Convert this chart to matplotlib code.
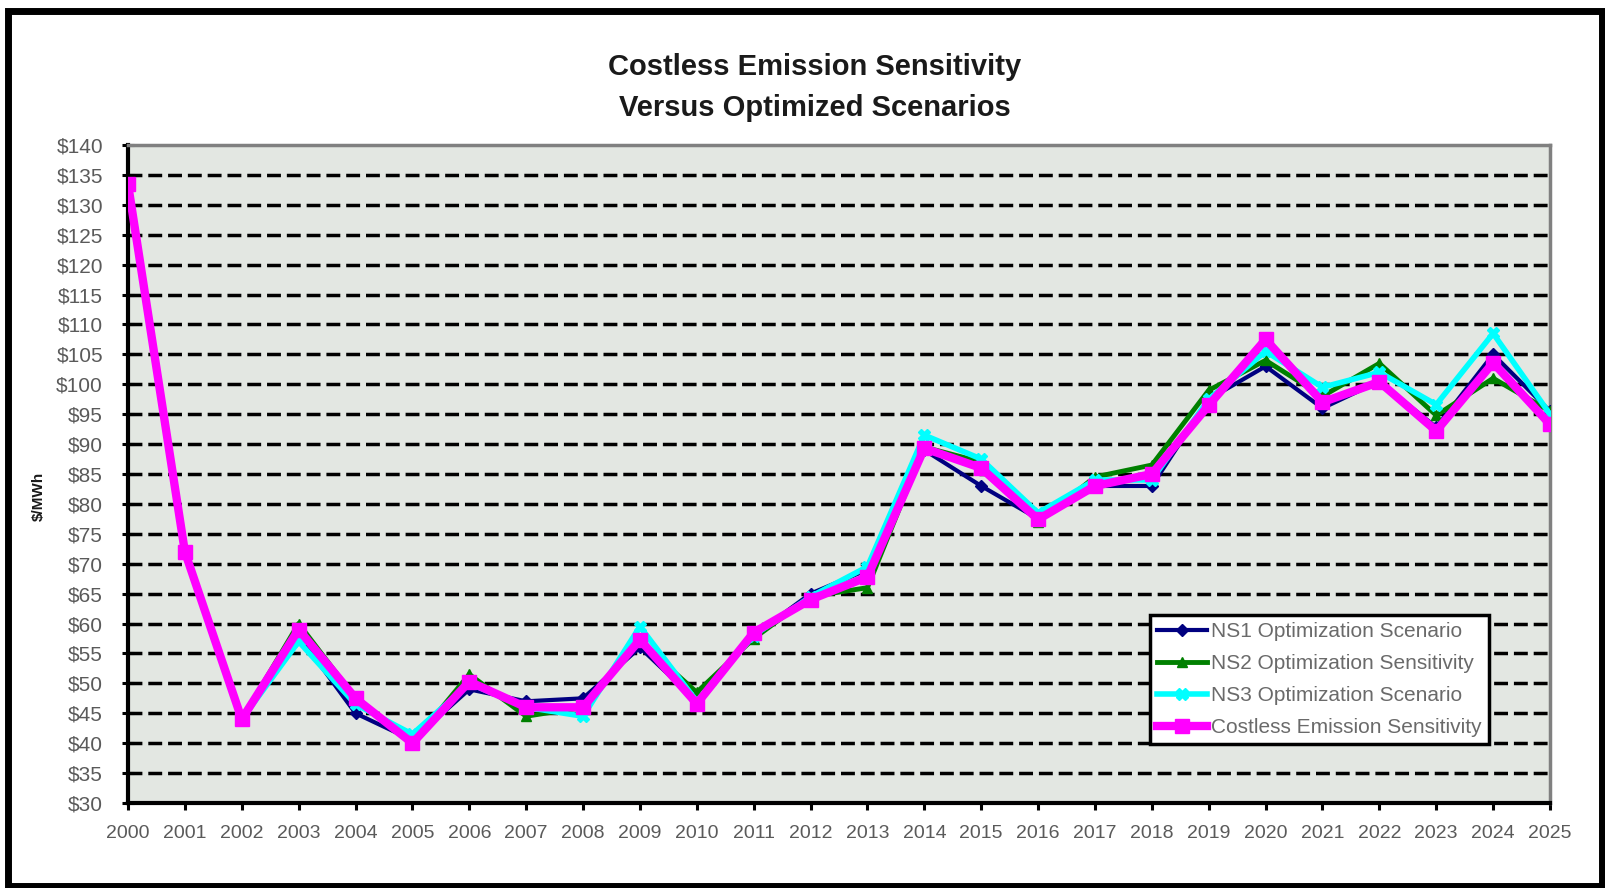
import matplotlib
matplotlib.use("Agg")
import matplotlib.pyplot as plt
from matplotlib.patches import Rectangle

plt.rcParams['font.family'] = ['Liberation Sans', 'DejaVu Sans']

# chart data
years = [2000, 2001, 2002, 2003, 2004, 2005, 2006, 2007, 2008, 2009, 2010, 2011, 2012,
         2013, 2014, 2015, 2016, 2017, 2018, 2019, 2020, 2021, 2022, 2023, 2024, 2025]
ns1_opt = [133.5, 72, 44, 58, 45, 40.5, 49, 47, 47.5, 56, 47, 58, 65,
           69, 89, 83, 77.5, 83, 83, 97.5, 103, 96, 100.5, 92.8, 105, 95.5]
ns2_sens = [133.5, 72, 44, 60, 47.5, 40, 51.5, 44.5, 46, 57, 48.5, 57.5, 64.5,
            66, 89.5, 87, 77, 84.5, 86.5, 99, 104, 98, 103.5, 94.8, 101, 95.5]
ns3_opt = [133.5, 72, 44, 57, 46.5, 41.5, 50, 46, 44.5, 59.5, 47, 58, 64.5,
           69.5, 91.5, 87.5, 78.5, 84, 84, 97.5, 105.5, 99.5, 102, 96.6, 108.5, 95]
costless = [133.5, 72, 44, 59, 47.5, 40, 50.3, 46, 46, 57.3, 46.6, 58.5, 64,
            67.8, 89.3, 86, 77.4, 83, 85, 96.5, 107.5, 97, 100.4, 92.2, 103.6, 93.3]

series_names = ["NS1 Optimization Scenario", "NS2 Optimization Sensitivity",
                "NS3 Optimization Scenario", "Costless Emission Sensitivity"]
y_ticks = [30, 35, 40, 45, 50, 55, 60, 65, 70, 75, 80, 85, 90, 95, 100, 105,
           110, 115, 120, 125, 130, 135, 140]

W, H = 1606, 888
fig = plt.figure(figsize=(W / 100, H / 100), dpi=100)
fig.patch.set_facecolor('white')

# outer chart border
fig.patches.append(Rectangle((8 / W, 2 / H), 1594 / W, 875 / H, transform=fig.transFigure,
                             fill=False, edgecolor='black', linewidth=5))

ax = fig.add_axes([128 / W, 1 - 803 / H, (1550 - 128) / W, (803 - 145) / H])
ax.set_facecolor('#E3E7E2')

# dashed gridlines
for v in y_ticks[1:-1]:
    ax.axhline(v, color='black', linewidth=2.5, linestyle=(0, (4, 1.7)), zorder=1)

ax.plot(years, ns1_opt, color='#000080', linewidth=3, marker='D', markersize=6,
        label=series_names[0], zorder=3)
ax.plot(years, ns2_sens, color='#008000', linewidth=3.5, marker='^', markersize=7,
        label=series_names[1], zorder=4)
ax.plot(years, ns3_opt, color='#00FFFF', linewidth=4, marker='X', markersize=8,
        label=series_names[2], zorder=5)
ax.plot(years, costless, color='#FF00FF', linewidth=6, marker='s', markersize=10,
        label=series_names[3], zorder=6)

ax.set_xlim(2000, 2025)
ax.set_ylim(30, 140)
ax.set_xticks(years)
ax.set_xticklabels([str(y) for y in years])
ax.set_yticks(y_ticks)
ax.set_yticklabels(['$%d' % v for v in y_ticks])

for side in ['top', 'right']:
    ax.spines[side].set_color('#808080')
    ax.spines[side].set_linewidth(2.5)
for side in ['left', 'bottom']:
    ax.spines[side].set_color('black')
    ax.spines[side].set_linewidth(3)

ax.tick_params(axis='y', direction='inout', length=8, width=2.2, pad=14,
               labelsize=15, labelcolor='#5a5a5a')
ax.tick_params(axis='x', direction='out', length=5, width=2.2, pad=11,
               labelsize=14, labelcolor='#5a5a5a')

fig.text(815 / W, 1 - 75 / H, "Costless Emission Sensitivity", ha='center', va='baseline',
         fontsize=21, fontweight='bold', color='#1a1a1a')
fig.text(815 / W, 1 - 116 / H, "Versus Optimized Scenarios", ha='center', va='baseline',
         fontsize=21, fontweight='bold', color='#1a1a1a')
fig.text(39 / W, 1 - 496 / H, "$/MWh", rotation=90, ha='center', va='center',
         fontsize=11, fontweight='bold', color='#1a1a1a')

leg = ax.legend(loc='upper left', bbox_to_anchor=(1150 / W, 1 - 615 / H),
                bbox_transform=fig.transFigure, fontsize=15, frameon=True,
                fancybox=False, framealpha=1, edgecolor='black',
                handlelength=2.4, handletextpad=0.2, labelspacing=0.62,
                borderpad=0.35, borderaxespad=0)
leg.get_frame().set_linewidth(2.5)
for t in leg.get_texts():
    t.set_color('#6a6a6a')

fig.savefig('out.png', dpi=100)
